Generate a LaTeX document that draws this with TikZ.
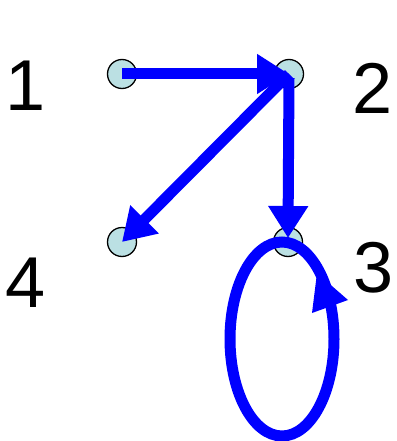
\documentclass[tikz,border=0pt]{standalone}
\usepackage{fontspec}
\setmainfont{Liberation Sans}
\usetikzlibrary{arrows.meta}
\definecolor{nodefill}{RGB}{187,224,227}
\tikzset{
  vtx/.style={circle, draw=black, line width=1.3pt, fill=nodefill, minimum size=29pt, inner sep=0pt},
  lbl/.style={inner sep=0pt, font=\fontsize{72}{80}\selectfont},
  edge/.style={draw=blue, line width=11pt, -{Triangle[length=32pt,width=38pt]}},
  loopline/.style={draw=blue, line width=11pt}
}
\begin{document}
\begin{tikzpicture}[x=1pt,y=-1pt]
\useasboundingbox (0,0) rectangle (396,441);
\node[vtx] (n1) at (122,74) {};
\node[vtx] (n2) at (289,74) {};
\node[vtx] (n3) at (288,242) {};
\node[vtx] (n4) at (122,242) {};
\node[lbl] (l1) at (26,86) {1};
\node[lbl] (l2) at (373,88) {2};
\node[lbl] (l3) at (374,268) {3};
\node[lbl] (l4) at (26,283) {4};
\draw[edge] (n1.center) -- (n2.center);
\draw[edge] (n2.center) -- (n4.center);
\draw[edge] ([yshift=-4pt]n2.center) -- ([yshift=4pt]n3.center);
\draw[loopline] (282,339) ellipse [x radius=52pt, y radius=97pt];
\fill[blue] (317,273) -- (312,313) -- (348,300) -- cycle;
\end{tikzpicture}
\end{document}
